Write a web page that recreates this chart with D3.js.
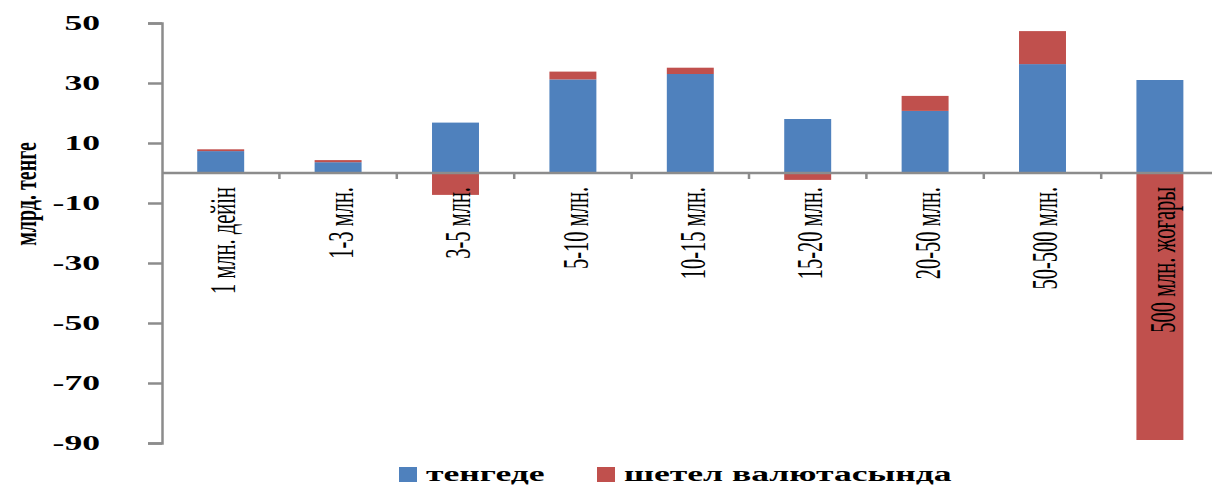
<!DOCTYPE html>
<html>
<head>
<meta charset="utf-8">
<script src="https://cdn.jsdelivr.net/npm/d3@7"></script>
<style>
  html, body { margin: 0; padding: 0; background: #fff; }
  svg { display: block; }
</style>
</head>
<body>
<svg id="chart"></svg>
<script>
// chart data
const categories = ["1 млн. дейін", "1-3 млн.", "3-5 млн.", "5-10 млн.", "10-15 млн.",
                    "15-20 млн.", "20-50 млн.", "50-500 млн.", "500 млн. жоғары"];
const tengeValues = [7.3, 3.6, 16.8, 31.2, 33.0, 18.0, 20.7, 36.3, 31.0];
const foreignValues = [0.6, 0.7, -7.3, 2.6, 2.1, -2.3, 5.0, 11.0, -89.0];
const yTicks = [50, 30, 10, -10, -30, -50, -70, -90];
const seriesNames = ["тенгеде", "шетел валютасында"];
const seriesColors = ["#4F81BD", "#C0504D"];

const width = 1212, height = 486;
const stretch = 1.78;   // the original picture is stretched sideways

const svg = d3.select("#chart")
  .attr("width", width)
  .attr("height", height);

// scales
const x = d3.scaleBand()
  .domain(categories)
  .range([162, 1218.6])
  .paddingInner(0.6)
  .paddingOuter(0.3);

const y = d3.scaleLinear()
  .domain([-90, 50])
  .range([443, 23]);

// stacked values: tenge from 0, foreign on top when positive, below 0 when negative
const rows = categories.map((c, i) => {
  const t = tengeValues[i], f = foreignValues[i];
  return {
    cat: c,
    tenge: [0, t],
    foreign: f >= 0 ? [t, t + f] : [f, 0]
  };
});

// bars
svg.append("g").selectAll("rect")
  .data(rows)
  .enter()
  .append("rect")
  .attr("x", d => x(d.cat))
  .attr("width", x.bandwidth())
  .attr("y", d => y(d.tenge[1]))
  .attr("height", d => y(d.tenge[0]) - y(d.tenge[1]))
  .attr("fill", seriesColors[0]);

svg.append("g").selectAll("rect")
  .data(rows)
  .enter()
  .append("rect")
  .attr("x", d => x(d.cat))
  .attr("width", x.bandwidth())
  .attr("y", d => y(d.foreign[1]))
  .attr("height", d => y(d.foreign[0]) - y(d.foreign[1]))
  .attr("fill", seriesColors[1]);

// y axis
const yAxis = svg.append("g")
  .attr("transform", "translate(162,0)")
  .call(d3.axisLeft(y).tickValues(yTicks).tickSize(14).tickSizeOuter(14).tickFormat(d3.format("d")));

yAxis.select(".domain").attr("stroke", "#8c8c8c").attr("stroke-width", 2.5);
yAxis.selectAll(".tick line").attr("stroke", "#8c8c8c").attr("stroke-width", 2.5);
yAxis.selectAll(".tick text")
  .attr("x", 0)
  .attr("dy", "0.34em")
  .attr("transform", `translate(-62,0) scale(${stretch},1)`)
  .attr("font-family", "'Liberation Serif', serif")
  .attr("font-weight", "bold")
  .attr("font-size", 20)
  .attr("fill", "#000")
  .text(d => d < 0 ? "-" + Math.abs(d) : d);

// x axis (zero line with ticks between categories)
const step = x.step();
const boundaries = categories.map(c => x(c) - step * x.paddingOuter() + step);

svg.append("line")
  .attr("x1", 162).attr("x2", width)
  .attr("y1", y(0)).attr("y2", y(0))
  .attr("stroke", "#8c8c8c")
  .attr("stroke-width", 2.5);

svg.append("g").selectAll("line")
  .data(boundaries)
  .enter()
  .append("line")
  .attr("x1", d => d).attr("x2", d => d)
  .attr("y1", y(0)).attr("y2", y(0) + 6)
  .attr("stroke", "#8c8c8c")
  .attr("stroke-width", 2.5);

// category labels, rotated
svg.append("g").selectAll("text")
  .data(categories)
  .enter()
  .append("text")
  .attr("transform", d => `translate(${x(d) + x.bandwidth() / 2},187) scale(1.7,1) rotate(-90)`)
  .attr("text-anchor", "end")
  .attr("dy", "0.42em")
  .attr("font-family", "'Liberation Serif', serif")
  .attr("font-size", 20.5)
  .attr("fill", "#000")
  .text(d => d);

// y axis title
svg.append("text")
  .attr("transform", `translate(25,194) scale(1.6,1) rotate(-90)`)
  .attr("text-anchor", "middle")
  .attr("dy", "0.35em")
  .attr("font-family", "'Liberation Serif', serif")
  .attr("font-weight", "bold")
  .attr("font-size", 20)
  .attr("fill", "#000")
  .text("млрд. тенге");

// legend
const legendX = [399, 597];
const legend = svg.append("g").selectAll("g")
  .data(seriesNames)
  .enter()
  .append("g")
  .attr("transform", (d, i) => `translate(${legendX[i]},467)`);

legend.append("rect")
  .attr("width", 18)
  .attr("height", 15)
  .attr("fill", (d, i) => seriesColors[i]);

legend.append("text")
  .attr("transform", `translate(27,14) scale(${stretch},1)`)
  .attr("font-family", "'Liberation Serif', serif")
  .attr("font-weight", "bold")
  .attr("font-size", 20)
  .attr("fill", "#000")
  .text(d => d);
</script>
</body>
</html>
